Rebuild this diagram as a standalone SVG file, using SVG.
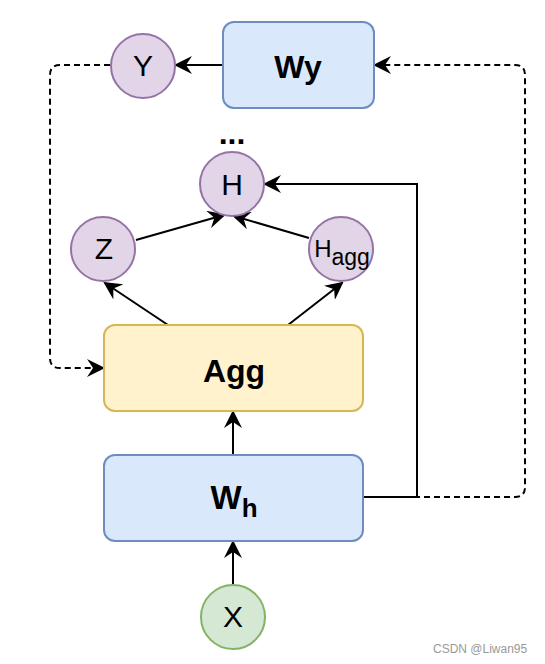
<svg xmlns="http://www.w3.org/2000/svg" width="545" height="664" viewBox="0 0 545 664">
<defs>
<marker id="arr" viewBox="0 0 18 18" refX="16" refY="9" markerWidth="18" markerHeight="18" markerUnits="userSpaceOnUse" orient="auto">
<path d="M0,0 L18,9 L0,18 L6,9 Z" fill="#000"/>
</marker>
</defs>
<style>
.circ{fill:#e1d5e7;stroke:#9673a6;stroke-width:2}
.circg{fill:#d5e8d4;stroke:#82b366;stroke-width:2}
.blue{fill:#dae8fc;stroke:#6c8ebf;stroke-width:2}
.yel{fill:#fff2cc;stroke:#d6b656;stroke-width:2}
.t{font-family:"Liberation Sans",Arial,sans-serif;font-size:30px;fill:#000;text-anchor:middle}
.b{font-weight:bold;font-size:32px}
.e{fill:none;stroke:#000;stroke-width:2}
.d{stroke-dasharray:6 4}
</style>
<rect width="545" height="664" fill="#fff"/>
<g id="connectors">
<path class="e" d="M223,65 L176,65" marker-end="url(#arr)"/>
<path class="e d" d="M110,65 L60,65 Q50,65 50,75 L50,358 Q50,368 60,368 L103,368" marker-end="url(#arr)"/>
<path class="e d" d="M364,497 L515,497 Q525,497 525,487 L525,75 Q525,65 515,65 L375,65" marker-end="url(#arr)"/>
<path class="e" d="M364,497 L417,497 L417,184 L265,184" marker-end="url(#arr)"/>
<path class="e" d="M136,240 L224,215" marker-end="url(#arr)"/>
<path class="e" d="M309,238 L234,216" marker-end="url(#arr)"/>
<path class="e" d="M168,325 L105,283" marker-end="url(#arr)"/>
<path class="e" d="M288,325 L342,283" marker-end="url(#arr)"/>
<path class="e" d="M233,455 L233,412" marker-end="url(#arr)"/>
<path class="e" d="M233,584 L233,542" marker-end="url(#arr)"/>
</g>
<g id="Y"><circle class="circ" cx="143" cy="66" r="32"/><text class="t" x="143" y="76">Y</text></g>
<g id="Wy"><rect class="blue" x="223" y="22" width="151" height="86" rx="11"/><text class="t b" x="298" y="78">Wy</text></g>
<g id="H"><circle class="circ" cx="232" cy="184" r="32"/><text class="t" x="232" y="195">H</text><text class="t b" x="232" y="144">...</text></g>
<g id="Z"><circle class="circ" cx="103" cy="249" r="32"/><text class="t" x="104" y="259">Z</text></g>
<g id="Hagg"><circle class="circ" cx="341" cy="249" r="32"/><text class="t" x="342" y="257" style="font-size:24px"><tspan>H</tspan><tspan style="font-size:23px" dy="8">agg</tspan></text></g>
<g id="Agg"><rect class="yel" x="104" y="325" width="259" height="86" rx="11"/><text class="t b" x="234" y="382">Agg</text></g>
<g id="Wh"><rect class="blue" x="104" y="455" width="259" height="86" rx="11"/><text class="t b" x="234" y="509" style="font-size:33px">W<tspan style="font-size:26px" dy="8">h</tspan></text></g>
<g id="X"><circle class="circg" cx="233" cy="617" r="32"/><text class="t" x="233" y="627">X</text></g>
<text x="433" y="653" font-family="'Liberation Sans',Arial,sans-serif" font-size="12" fill="#999">CSDN @Liwan95</text>
</svg>
